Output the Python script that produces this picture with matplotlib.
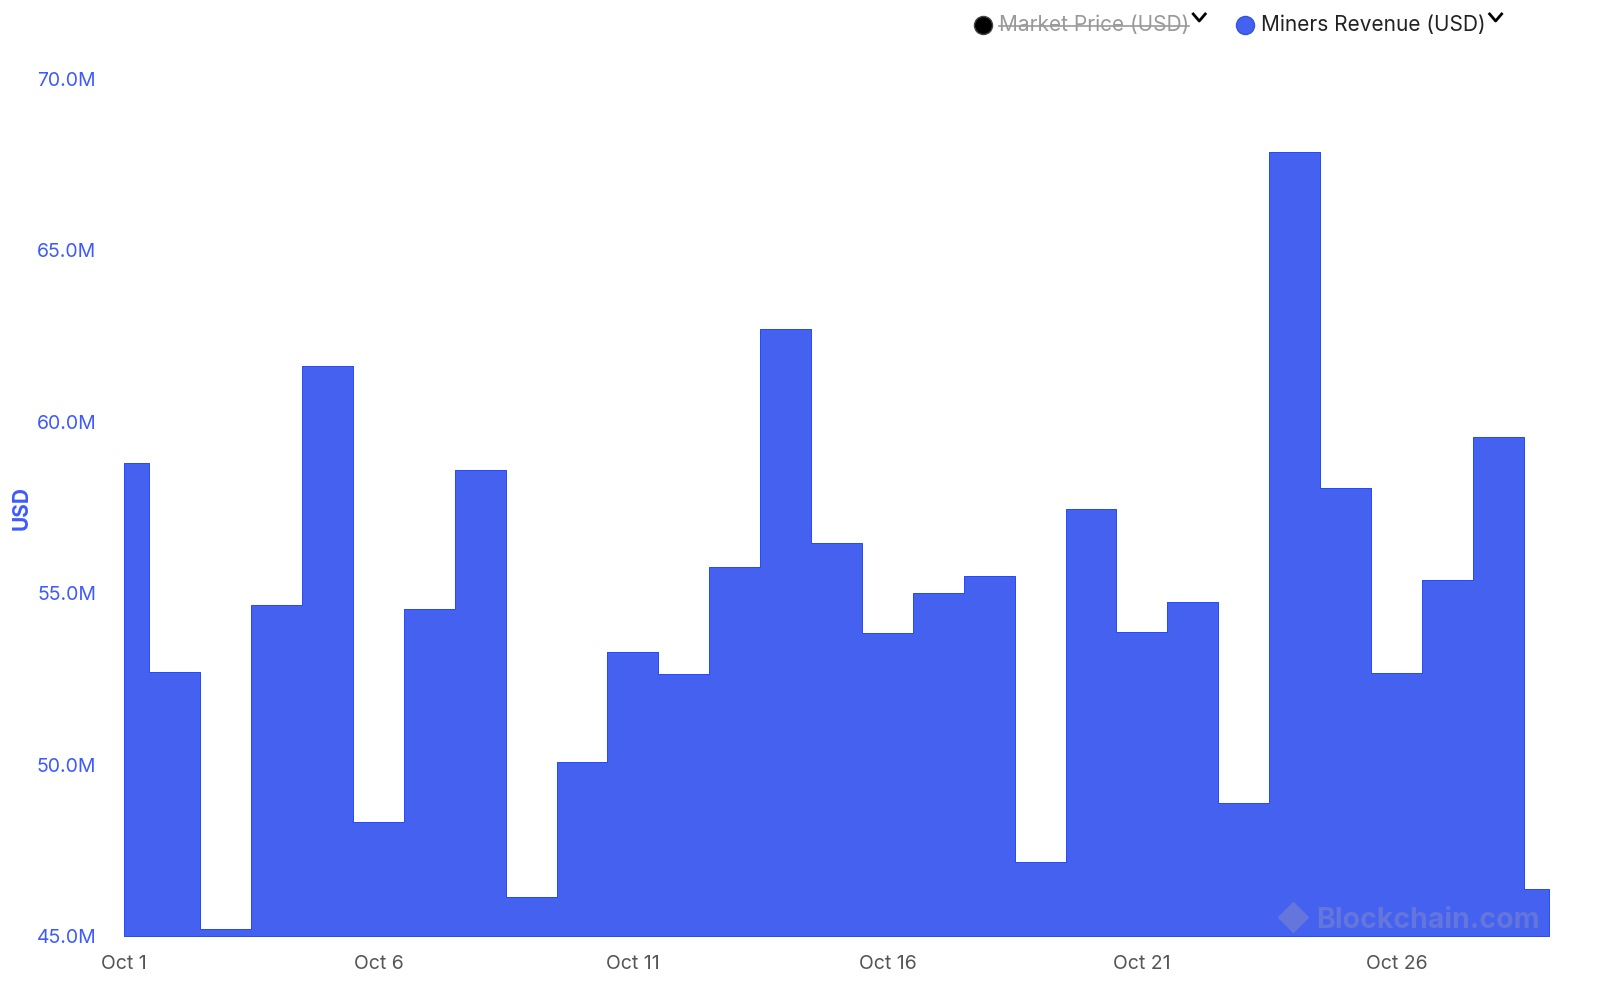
import matplotlib.pyplot as plt
import numpy as np
from matplotlib.lines import Line2D

# daily miners revenue, Oct 1 .. Oct 29 (millions USD)
days = list(range(1, 30))
revenue_musd = [
    58.80, 52.70, 45.20, 54.66, 61.63, 48.33, 54.54, 58.59, 46.14, 50.08,
    53.28, 52.64, 55.76, 62.71, 56.46, 53.84, 55.01, 55.50, 47.16, 57.46,
    53.87, 54.74, 48.88, 67.87, 58.07, 52.67, 55.39, 59.56, 46.37,
]
tick_days = [1, 6, 11, 16, 21, 26]
tick_labels = [f"Oct {d}" for d in tick_days]
y_ticks = [45.0, 50.0, 55.0, 60.0, 65.0, 70.0]

FILL = "#4461f0"
EDGE = "#2347ff"
TICK_BLUE = "#3d5afe"

plt.rcParams["font.family"] = ["Inter", "DejaVu Sans"]

fig = plt.figure(figsize=(16, 10.01), dpi=100)
ax = fig.add_axes([124 / 1600, 1 - 936 / 1001, (1549 - 124) / 1600, (936 - 79) / 1001])

x = np.array(days, dtype=float)
y = np.array(revenue_musd)
ax.fill_between(x, 45.0, y, step="mid", facecolor=FILL, edgecolor=EDGE, linewidth=0.7)

ax.set_xlim(days[0], days[-1])
ax.set_ylim(45.0, 70.0)
ax.set_xticks(tick_days)
ax.set_xticklabels(tick_labels, color="#555555", fontsize=14)
ax.set_yticks(y_ticks)
ax.set_yticklabels([f"{v:.1f}M" for v in y_ticks], color=TICK_BLUE, fontsize=14)
ax.tick_params(axis="both", length=0)
ax.tick_params(axis="x", pad=14)
ax.tick_params(axis="y", pad=20)
for s in ax.spines.values():
    s.set_visible(False)

fig.text(22 / 1600, 1 - 508 / 1001, "USD", rotation=90, color=TICK_BLUE,
         fontsize=15, fontweight="bold", ha="center", va="center")

# watermark
ax.text(0.9937, 0.0093, "Blockchain.com", transform=ax.transAxes, ha="right", va="baseline",
        fontsize=20.5, fontweight="bold", color="#6475dc", zorder=3)
ax.plot([0.820], [0.022], transform=ax.transAxes, marker="D", markersize=15,
        color="#6475dc", linestyle="none", zorder=3)

# legend across the top
def px(xp, yp):
    return xp / 1600, 1 - yp / 1001

fig.add_artist(Line2D([px(983, 25)[0]], [px(983, 25)[1]], marker="o", markersize=13,
                      color="black", markeredgecolor="#444444", linestyle="none"))
t1 = fig.text(*px(999, 25), "Market Price (USD)", color="#999999", fontsize=15,
              ha="left", va="center")
fig.add_artist(Line2D([px(1245, 25)[0]], [px(1245, 25)[1]], marker="o", markersize=13,
                      color=FILL, markeredgecolor="#3355dd", linestyle="none"))
t2 = fig.text(*px(1261, 25), "Miners Revenue (USD)", color="#222222", fontsize=15,
              ha="left", va="center")

fig.canvas.draw()
r = fig.canvas.get_renderer()
bb = t1.get_window_extent(r).transformed(fig.transFigure.inverted())
ymid = (bb.y0 + bb.y1) / 2
fig.add_artist(Line2D([bb.x0, bb.x1], [ymid - 0.001, ymid - 0.001], color="#999999", linewidth=1.2))

for t in (t1, t2):
    b = t.get_window_extent(r).transformed(fig.transFigure.inverted())
    cx = b.x1 + 10 / 1600
    cy = 1 - 19 / 1001
    fig.add_artist(Line2D([cx - 6 / 1600, cx, cx + 6 / 1600],
                          [cy + 5 / 1001, cy - 2 / 1001, cy + 5 / 1001],
                          color="black", linewidth=2))

fig.savefig("out.png", dpi=100)
